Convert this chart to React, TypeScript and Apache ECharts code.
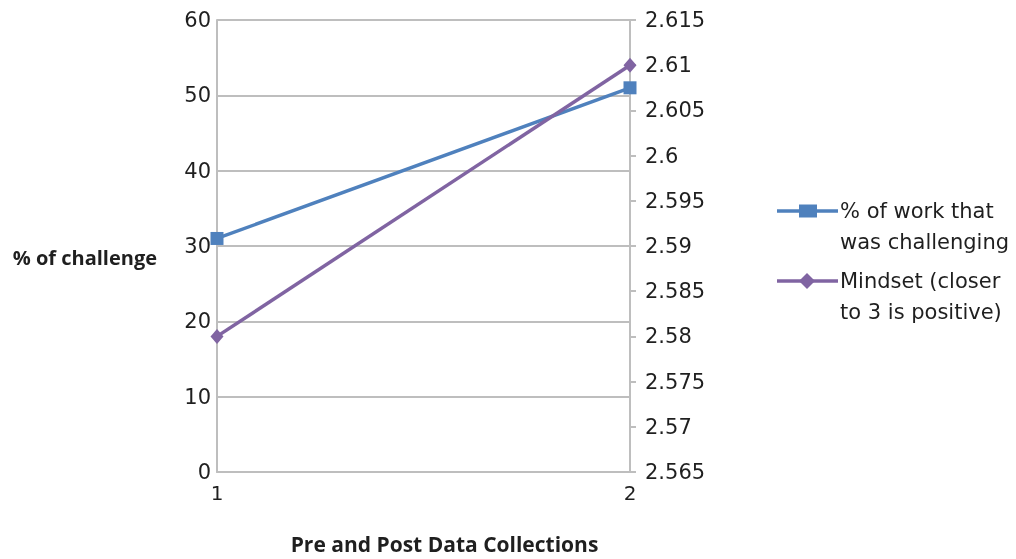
import React, { useEffect, useRef } from "react";
import * as echarts from "echarts";

const categories = ["1", "2"];
const seriesNames = ["% of work that\nwas challenging", "Mindset (closer\nto 3 is positive)"];
const challengeValues = [31, 51];
const mindsetValues = [2.58, 2.61];
const leftAxisName = "% of challenge";
const xAxisName = "Pre and Post Data Collections";

const BLUE = "#4F81BD";
const PURPLE = "#8064A2";
const GRID = "#BEBEBE";
const FONT = "DejaVu Sans";
const BOLD_FONT = "Open Sans";
const TEXT = "#1f1f1f";

export default function App() {
  const ref = useRef<HTMLDivElement>(null);
  useEffect(() => {
    const chart = echarts.init(ref.current!, undefined, { renderer: "svg" });
    const legendX = 777;
    const legendY = [211, 281];
    const legendGraphics: any[] = [];
    seriesNames.forEach((name, i) => {
      const color = i === 0 ? BLUE : PURPLE;
      legendGraphics.push({
        type: "line",
        shape: { x1: legendX, y1: legendY[i], x2: legendX + 61, y2: legendY[i] },
        style: { stroke: color, lineWidth: 3.5 },
      });
      if (i === 0) {
        legendGraphics.push({
          type: "rect",
          shape: { x: legendX + 22, y: legendY[i] - 6.5, width: 18, height: 13 },
          style: { fill: color },
        });
      } else {
        legendGraphics.push({
          type: "polygon",
          shape: {
            points: [
              [legendX + 30, legendY[i] - 8],
              [legendX + 38, legendY[i]],
              [legendX + 30, legendY[i] + 8],
              [legendX + 22, legendY[i]],
            ],
          },
          style: { fill: color },
        });
      }
      legendGraphics.push({
        type: "text",
        x: legendX + 63,
        y: legendY[i] - 15.5,
        style: {
          text: name,
          fill: TEXT,
          font: `21px '${FONT}'`,
          lineHeight: 31,
          textVerticalAlign: "top",
        },
      });
    });

    chart.setOption({
      animation: false,
      grid: { left: 217, right: 386, top: 20, bottom: 75, containLabel: false },
      xAxis: {
        type: "category",
        data: categories,
        boundaryGap: false,
        axisLine: { lineStyle: { color: GRID, width: 2 } },
        axisTick: { show: false },
        axisLabel: { color: TEXT, fontSize: 20, fontFamily: FONT, margin: 11 },
        name: xAxisName,
        nameLocation: "middle",
        nameGap: 61,
        nameTextStyle: {
          color: TEXT,
          fontSize: 21,
          fontWeight: "bold",
          fontFamily: BOLD_FONT,
          padding: [0, 0, 0, 42],
        },
      },
      yAxis: [
        {
          type: "value",
          min: 0,
          max: 60,
          interval: 10,
          position: "left",
          axisLine: { show: true, lineStyle: { color: GRID, width: 2 } },
          axisTick: { show: false },
          splitLine: { show: true, lineStyle: { color: GRID, width: 2 } },
          axisLabel: { color: TEXT, fontSize: 21, fontFamily: FONT, margin: 6 },
          name: leftAxisName,
          nameLocation: "middle",
          nameRotate: 0,
          nameGap: 60,
          nameTextStyle: {
            color: TEXT,
            fontSize: 20,
            fontWeight: "bold",
            fontFamily: BOLD_FONT,
            verticalAlign: "top",
            lineHeight: 22,
          },
        },
        {
          type: "value",
          min: 2.565,
          max: 2.615,
          interval: 0.005,
          position: "right",
          axisLine: { show: true, lineStyle: { color: GRID, width: 2 } },
          axisTick: { show: true, length: 6, lineStyle: { color: GRID, width: 2 } },
          splitLine: { show: false },
          axisLabel: {
            color: TEXT,
            fontSize: 21,
            fontFamily: FONT,
            margin: 15,
            formatter: (v: number) => String(parseFloat(v.toFixed(3))),
          },
        },
      ],
      series: [
        {
          name: seriesNames[0],
          type: "line",
          yAxisIndex: 0,
          data: challengeValues,
          symbol: "rect",
          symbolSize: 13,
          lineStyle: { color: BLUE, width: 3.5 },
          itemStyle: { color: BLUE },
        },
        {
          name: seriesNames[1],
          type: "line",
          yAxisIndex: 1,
          data: mindsetValues,
          symbol: "diamond",
          symbolSize: [13, 15],
          lineStyle: { color: PURPLE, width: 3.5 },
          itemStyle: { color: PURPLE },
        },
      ],
      graphic: legendGraphics,
    });
    return () => chart.dispose();
  }, []);
  return (
    <div
      ref={ref}
      style={{ position: "fixed", left: 0, top: 0, width: 1016, height: 559 }}
    />
  );
}
